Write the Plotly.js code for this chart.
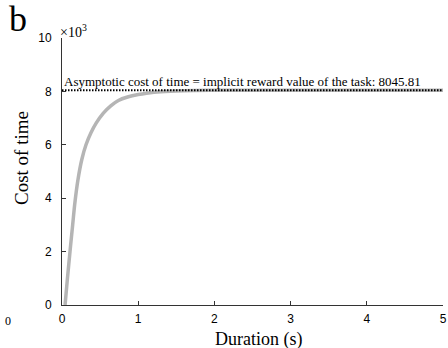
<!DOCTYPE html>
<html><head><meta charset="utf-8">
<script src="https://cdn.plot.ly/plotly-3.0.1.min.js"></script>
<style>html,body{margin:0;padding:0;background:#fff}#chart{width:448px;height:348px}</style>
</head><body><div id="chart"></div>
<script>
// Duration (s) and cost of time (raw units)
const duration = [0.04, 0.07, 0.105, 0.14, 0.17, 0.21, 0.26, 0.315, 0.38, 0.45, 0.54, 0.64, 0.74, 0.86, 1.0, 1.11, 1.3, 1.6, 2.0, 2.5, 3.0, 4.0, 5.0];
const costOfTime = [0, 950, 2000, 3000, 3850, 4700, 5450, 6000, 6450, 6820, 7180, 7460, 7660, 7790, 7885, 7935, 7990, 8025, 8040, 8044.5, 8045.5, 8045.8, 8045.81];
const asymptote = 8045.81;
const asymX = [0, 5];
const yTickVals = [0, 2000, 4000, 6000, 8000, 10000];
const yTickText = ['0', '2', '4', '6', '8', '10'];
const xTickVals = [0, 1, 2, 3, 4, 5];

const serif = 'Liberation Serif, Times New Roman, serif';
const sans = 'Liberation Sans, Arial, sans-serif';

const traces = [
  {x: duration, y: costOfTime, mode: 'lines', line: {color: '#b5b5b5', width: 3.5, shape: 'spline', smoothing: 1}},
  {x: asymX, y: [asymptote, asymptote], mode: 'lines', line: {color: '#000', width: 2, dash: '1.5px,1.5px'}, hoverinfo: 'skip'}
];

const W = 448, H = 348, L = 62, R = 5, T = 38, B = 43;
const pw = W - L - R, ph = H - T - B;
const px = (x) => (x - L) / pw;
const py = (y) => (H - B - y) / ph;

const layout = {
  width: W, height: H,
  margin: {l: L, r: R, t: T, b: B},
  showlegend: false,
  paper_bgcolor: '#fff', plot_bgcolor: '#fff',
  xaxis: {
    range: [0, 5], tickvals: xTickVals, ticks: 'inside', ticklen: 4, tickcolor: '#333',
    showline: true, linecolor: '#333', linewidth: 1, showgrid: false, zeroline: false,
    ticklabelstandoff: 3,
    tickfont: {family: sans, size: 12, color: '#000'}
  },
  yaxis: {
    range: [0, 10000], tickvals: yTickVals, ticktext: yTickText, ticks: 'inside', ticklen: 4, tickcolor: '#333',
    showline: true, linecolor: '#333', linewidth: 1, showgrid: false, zeroline: false,
    ticklabelstandoff: 7,
    tickfont: {family: sans, size: 12, color: '#000'}
  },
  annotations: [
    {x: 0, y: asymptote, xref: 'x', yref: 'y', xanchor: 'left', yanchor: 'bottom', xshift: 0, yshift: -1,
     text: 'Asymptotic cost of time = implicit reward value of the task: 8045.81', showarrow: false,
     font: {family: serif, size: 13, color: '#000'}},
    {x: px(58), y: py(42), xref: 'paper', yref: 'paper', xanchor: 'left', yanchor: 'bottom',
     text: '×10<sup>3</sup>', showarrow: false, font: {family: serif, size: 14, color: '#000'}},
    {x: px(7), y: py(-3), xref: 'paper', yref: 'paper', xanchor: 'left', yanchor: 'top', text: 'b', showarrow: false,
     font: {family: serif, size: 36, color: '#000'}},
    {x: px(3), y: py(321), xref: 'paper', yref: 'paper', xanchor: 'left', yanchor: 'middle', text: '0', showarrow: false,
     font: {family: serif, size: 12, color: '#000'}},
    {x: px(258), y: py(339), xref: 'paper', yref: 'paper', xanchor: 'center', yanchor: 'middle', text: 'Duration (s)', showarrow: false,
     font: {family: serif, size: 18, color: '#000'}},
    {x: px(21), y: py(158), xref: 'paper', yref: 'paper', xanchor: 'center', yanchor: 'middle', text: 'Cost of time', showarrow: false,
     textangle: -90, font: {family: serif, size: 19, color: '#000'}}
  ]
};

Plotly.newPlot('chart', traces, layout, {staticPlot: true, displayModeBar: false});
</script></body></html>
